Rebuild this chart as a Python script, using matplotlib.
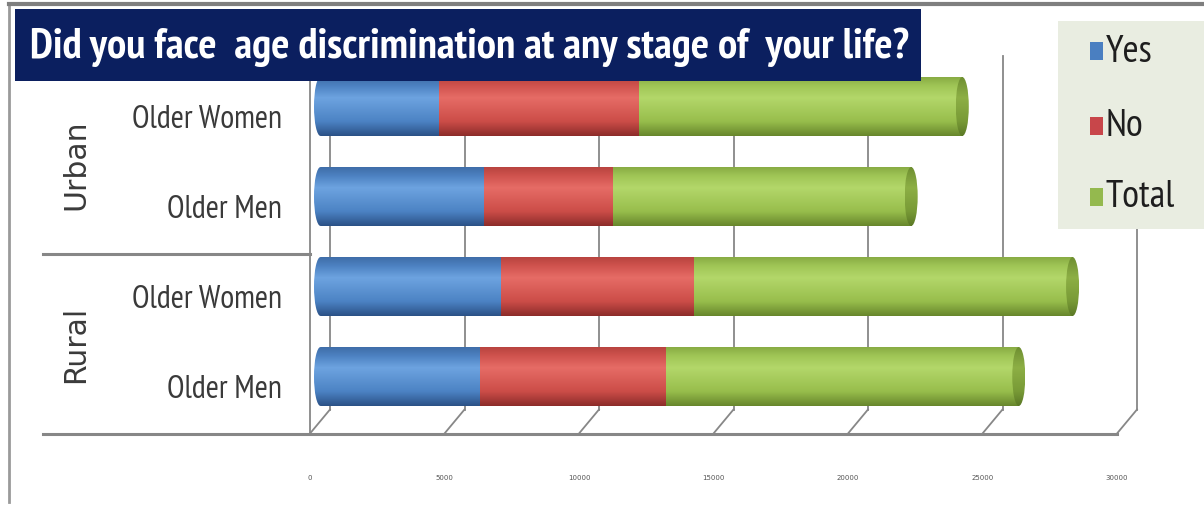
"""
Stacked 3D-style cylinder bars: age discrimination survey (urban / rural).
"""

import numpy as np
import matplotlib
matplotlib.use("Agg")
import matplotlib.pyplot as plt
from matplotlib import font_manager
from matplotlib.colors import LinearSegmentedColormap
from matplotlib.patches import Ellipse, Rectangle
from matplotlib.transforms import ScaledTranslation

# ============================================================
# Data (rows listed bottom to top)
# ============================================================
groups = ["Rural", "Urban"]
categories = ["Older Men", "Older Women", "Older Men", "Older Women"]
yes_vals = [6150, 6900, 6300, 4600]
no_vals = [6950, 7200, 4800, 7450]
total_vals = [13100, 14100, 11100, 12050]
series = ["Yes", "No", "Total"]
x_ticks = [0, 5000, 10000, 15000, 20000, 25000, 30000]
title = "Did you face  age discrimination at any stage of  your life?"

# ============================================================
# Styling
# ============================================================
W, H, DPI = 1204, 506, 100
GREY = "#878787"
cyl_colors = {
    "Yes": ["#2B5186", "#4C83C4", "#6DA3E0", "#4D82C2", "#3F6DA8"],
    "No": ["#8C2C2A", "#CC4D48", "#E66C66", "#D0534E", "#B8443F"],
    "Total": ["#67862C", "#98BE4C", "#B3D76A", "#A0C656", "#88AB44"],
}
cap_colors = ["#5B7826", "#789A36", "#8DAF45", "#7C9D3A", "#6E8E31"]
legend_colors = {"Yes": "#4A7FC1", "No": "#C8464A", "Total": "#94B94E"}

names = {f.name for f in font_manager.fontManager.ttflist}
NARROW = [f for f in ["PT Sans Narrow", "Carlito"] if f in names] + ["DejaVu Sans"]


def cyl_cmap(cols):
    # bottom -> top shading of a lit cylinder
    return LinearSegmentedColormap.from_list(
        "cyl", list(zip([0.0, 0.25, 0.65, 0.85, 1.0], cols)))


def fx(px):
    return px / W


def fy(py):
    return 1 - py / H


fig = plt.figure(figsize=(W / DPI, H / DPI), dpi=DPI)
fig.patch.set_facecolor("white")

# plotting plane of the bars: 0 at x=314px, 30000 at x=1121px
ax = fig.add_axes([fx(314), 83.5 / H, 807 / W, 360 / H])
ax.set_xlim(0, 30000)
ax.set_ylim(-0.5, 3.5)
ax.axis("off")

upx = 30000 / 807          # data units per pixel (x)
upy = 1 / 90.0             # data units per pixel (y)


def plane(dx, dy):
    return ax.transData + ScaledTranslation(dx / DPI, dy / DPI, fig.dpi_scale_trans)


front = plane(-4, -12)
back_dx, back_dy = 20 * upx, 24 * upy   # back wall relative to front plane
top_y = 3.7

# ---- walls, floor and gridlines (front-plane coordinates) ----
line_kw = dict(color=GREY, lw=1.3, transform=front, clip_on=False, zorder=0.5)
for t in x_ticks:
    ax.plot([t + back_dx, t + back_dx], [-0.5 + back_dy, top_y], **line_kw)
    ax.plot([t + back_dx, t], [-0.5 + back_dy, -0.5], **line_kw)
ax.plot([0, 0], [-0.5, top_y], **line_kw)

left_col = (43 - 310) * upx
ax.plot([left_col, x_ticks[-1]], [-0.5, -0.5], color=GREY, lw=2.2,
        transform=front, clip_on=False, zorder=0.6)
ax.plot([left_col, 0], [1.5, 1.5], color=GREY, lw=2.2,
        transform=front, clip_on=False, zorder=0.6)

# ---- cylinders ----
bh = 0.655
a = 6.5 * upx
yes_arr, no_arr, tot_arr = map(np.array, (yes_vals, no_vals, total_vals))
grad = np.linspace(0, 1, 256).reshape(-1, 1)


def shade(x0, x1, y, cols, clip=None):
    im = ax.imshow(grad, cmap=cyl_cmap(cols), origin="lower", aspect="auto",
                   extent=[x0, x1, y - bh / 2, y + bh / 2], zorder=2,
                   interpolation="bilinear")
    if clip is not None:
        im.set_clip_path(clip)
    return im


for i in range(len(categories)):
    y = i
    starts = [0, yes_arr[i], yes_arr[i] + no_arr[i]]
    ends = [yes_arr[i], yes_arr[i] + no_arr[i], yes_arr[i] + no_arr[i] + tot_arr[i]]
    # draw right to left
    for name, x0, x1 in reversed(list(zip(series, starts, ends))):
        shade(max(x0, a), x1, y, cyl_colors[name])
    # rounded left end
    e_left = Ellipse((a, y), 2 * a, bh, transform=ax.transData)
    shade(0, 2 * a, y, cyl_colors["Yes"], clip=e_left)
    # visible end face on the right
    end = ends[-1]
    e_right = Ellipse((end, y), 2 * a, bh, transform=ax.transData)
    shade(end - a, end + a, y, cap_colors, clip=e_right)

ax.set_xlim(0, 30000)
ax.set_ylim(-0.5, 3.5)

# ---- category and group labels ----
for i, cat in enumerate(categories):
    ax.text(0, i, cat, transform=front + ScaledTranslation(-28 / DPI, 0, fig.dpi_scale_trans),
            ha="right", va="center", fontsize=23, family=NARROW,
            color="#3A3A3A", clip_on=False)
for g, yc in zip(groups, [0.5, 2.5]):
    ax.text(0, yc, g, transform=front + ScaledTranslation(-234 / DPI, 0, fig.dpi_scale_trans),
            ha="center", va="center", rotation=90, fontsize=21.5,
            family="DejaVu Sans", color="#3A3A3A", clip_on=False)

# ---- x tick labels (tiny, below the floor) ----
for t in x_ticks:
    ax.text(t, -0.5, f"{t}", transform=front + ScaledTranslation(0, -44 / DPI, fig.dpi_scale_trans),
            ha="center", va="center", fontsize=5, color="#555555", clip_on=False)

# ---- outer frame ----
fig.add_artist(plt.Line2D([fx(9), fx(9)], [fy(6), fy(503)], color="#9A9A9A", lw=2))
fig.add_artist(plt.Line2D([fx(9), fx(1204)], [fy(5), fy(5)], color="#7F7F7F", lw=3))

# ---- title banner ----
fig.add_artist(Rectangle((fx(15), fy(82)), fx(921) - fx(15), fy(10) - fy(82),
                         transform=fig.transFigure, facecolor="#0B1F5F",
                         edgecolor="none", zorder=3))
fig.text(fx(470), fy(47), title, ha="center", va="center", color="white",
         fontsize=31, fontweight="bold", family=NARROW, zorder=4)

# ---- legend ----
fig.add_artist(Rectangle((fx(1058), fy(230)), fx(1204) - fx(1058), fy(22) - fy(230),
                         transform=fig.transFigure, facecolor="#E9EDE1",
                         edgecolor="none", zorder=3))
for name, ly in zip(series, [52, 127, 198]):
    fig.add_artist(Rectangle((fx(1090), fy(ly + 9)), fx(1103) - fx(1090), fy(ly - 9) - fy(ly + 9),
                             transform=fig.transFigure, facecolor=legend_colors[name],
                             edgecolor="none", zorder=4))
    fig.text(fx(1106), fy(ly), name, ha="left", va="center", fontsize=28,
             family=NARROW, color="#1E1E1E", zorder=5)

fig.savefig("out.png", dpi=DPI)
